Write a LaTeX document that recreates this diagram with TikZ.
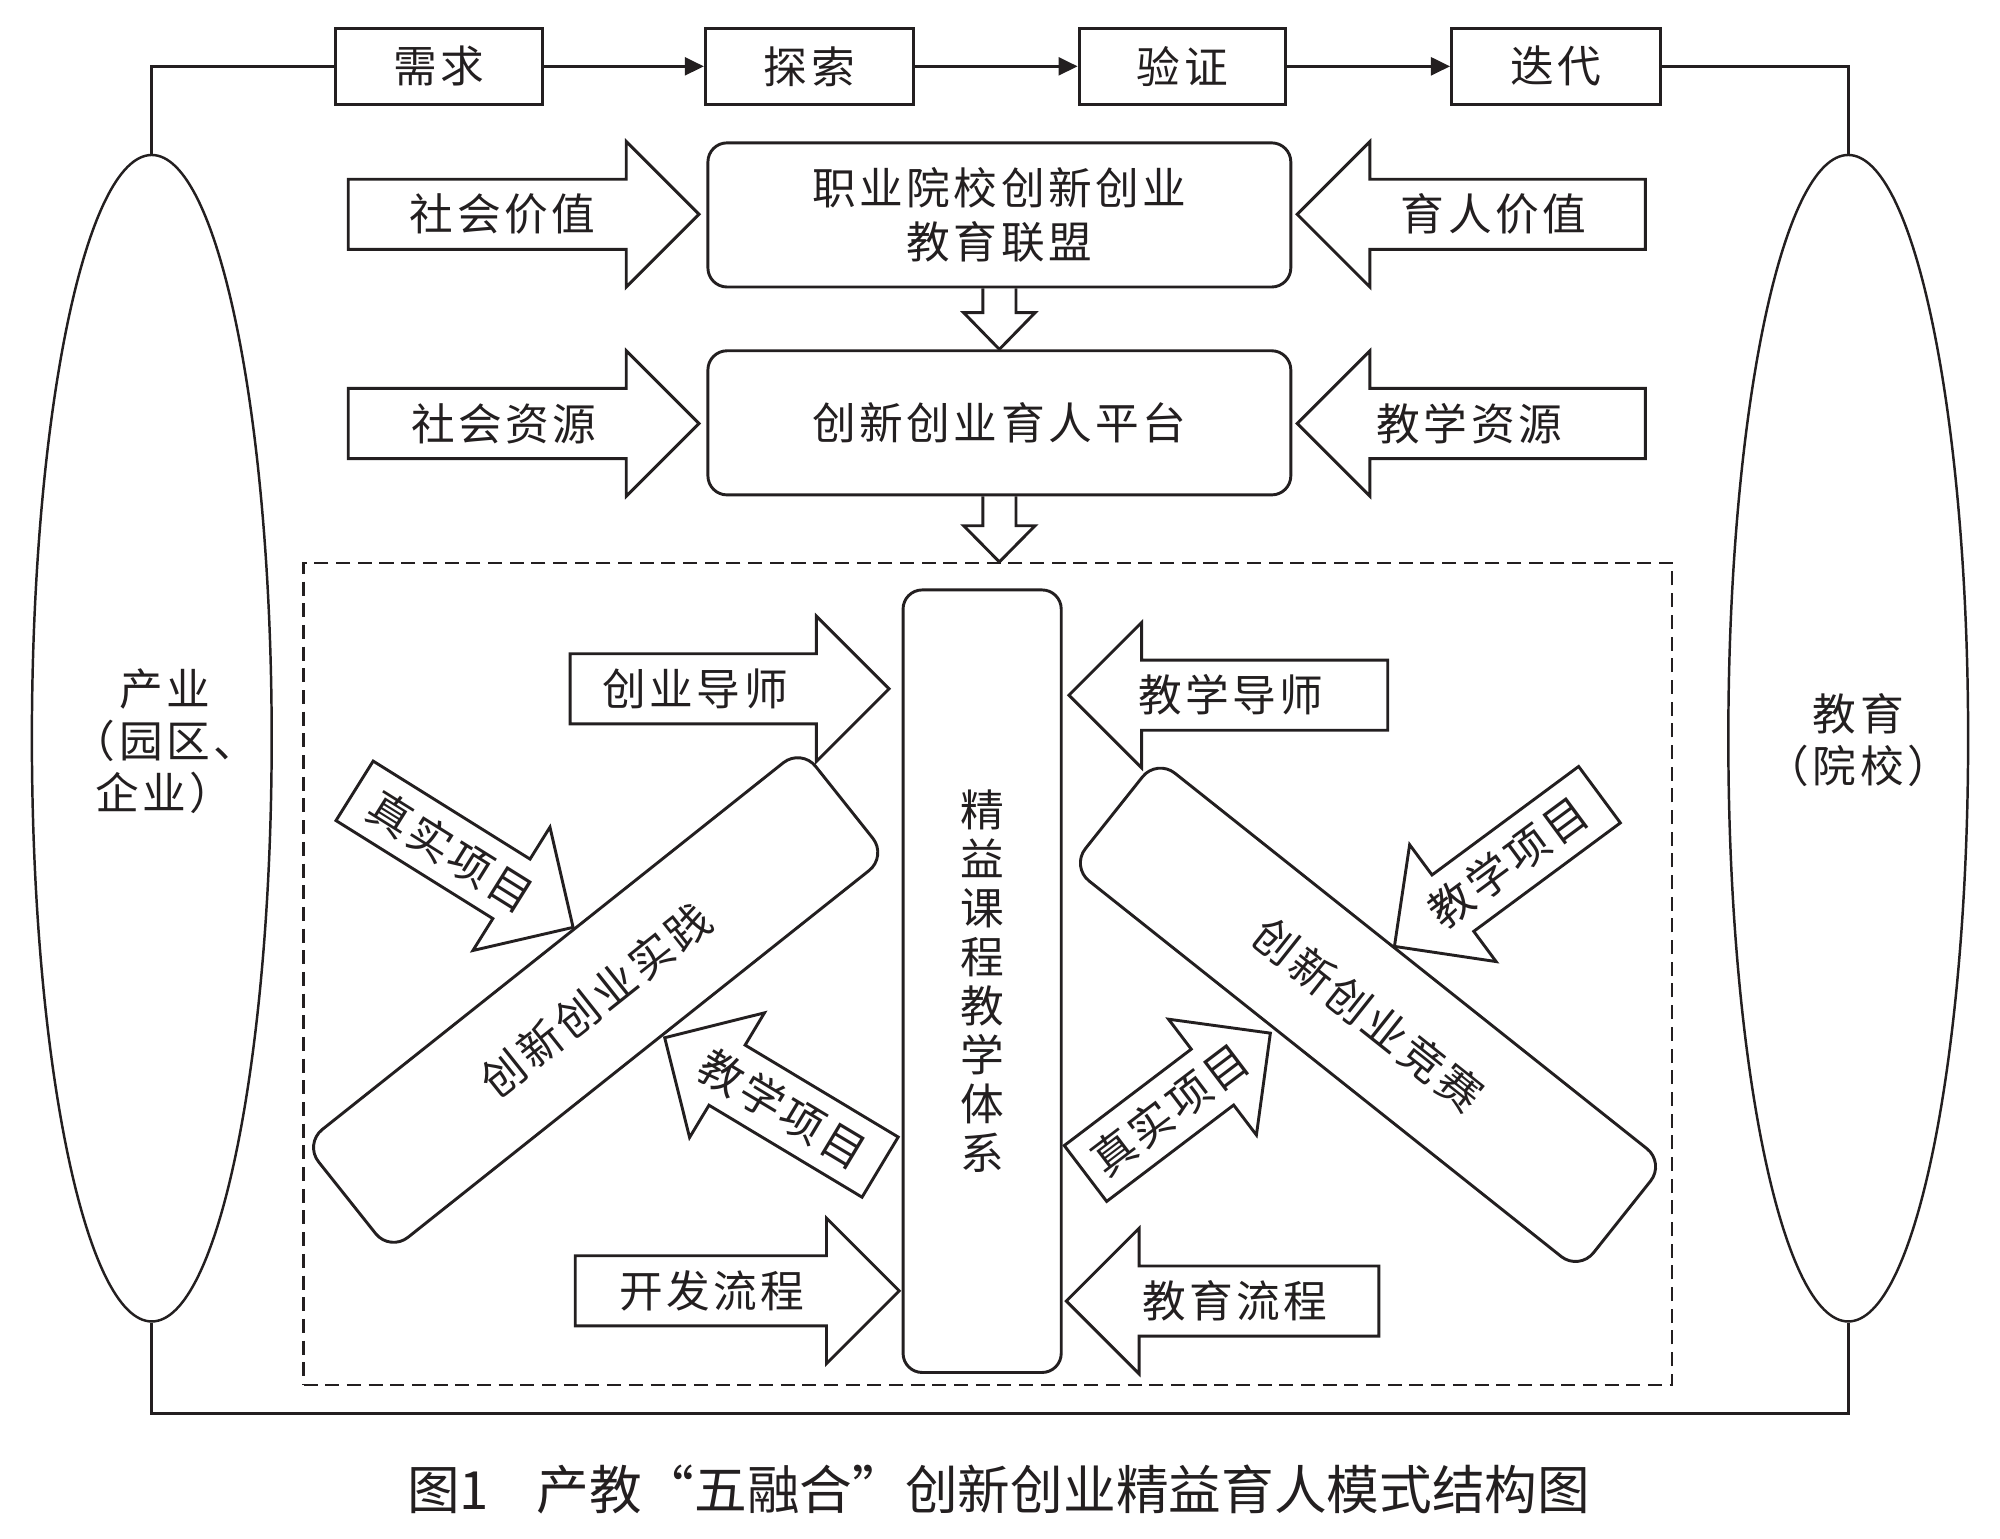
\documentclass[tikz,border=0pt]{standalone}
\usepackage{fontspec}
\setmainfont{Noto Sans CJK SC}
\newfontfamily\cjkfont[LetterSpace=8]{Noto Sans CJK SC}
\newfontfamily\capfont{Noto Sans CJK SC}
\usetikzlibrary{shapes.geometric,arrows.meta,calc}
\definecolor{ink}{RGB}{35,31,32}
% block arrow: x y angle length textpos textrot name text
\newcommand\blockarrow[8]{%
  \begin{scope}[shift={(#1,#2)},rotate=#3]
    \draw[outl] (0,-27.5) -- ({#4-57},-27.5) -- ({#4-57},-57) -- (#4,0)
      -- ({#4-57},57) -- ({#4-57},27.5) -- (0,27.5) -- cycle;
    \node[lbl,rotate=#6] (#7) at (#5,0) {#8};
  \end{scope}}
\begin{document}
\begin{tikzpicture}[x=0.2mm,y=-0.2mm,
  outl/.style={draw=ink,line width=1.3pt,fill=white,line join=miter},
  conn/.style={draw=ink,line width=1.3pt},
  txt/.style={font=\cjkfont\fontsize{19.5}{24}\selectfont,text=ink},
  lbl/.style={txt,inner sep=0pt},
  sqbox/.style={txt,draw=ink,line width=1.3pt,fill=white,minimum height=12mm,inner sep=0pt},
  rbox/.style={txt,draw=ink,line width=1.3pt,fill=white,rounded corners=3mm,inner sep=0pt,align=center},
  oval/.style={ellipse,draw=ink,line width=1.1pt,minimum width=37.6mm,minimum height=182.9mm,inner sep=0pt},
  zonebox/.style={draw=ink,line width=1.1pt,dash pattern=on 2.2mm off 1.2mm,minimum width=214.6mm,minimum height=128.9mm,inner sep=0pt},
  tip/.style={-{Triangle[length=3mm,width=2.8mm]}}]
\useasboundingbox (0,0) rectangle (1568,1206);

% side ellipses
\node[oval] (ind) at (119,578.75) {};
\node[oval] (edu) at (1449,578.75) {};
\node[lbl,align=center,font=\cjkfont\fontsize{19.5}{23.2}\selectfont] (indt) at (129,581) {产业\\（园区、\\企业）};
\node[lbl,align=center,font=\cjkfont\fontsize{19.5}{23}\selectfont] (edut) at (1457,580) {教育\\（院校）};

% top process
\node[sqbox,minimum width=32.4mm] (need) at (344,52) {需求};
\node[sqbox,minimum width=32.6mm] (explore) at (634.5,52) {探索};
\node[sqbox,minimum width=32.4mm] (verify) at (927,52) {验证};
\node[sqbox,minimum width=32.8mm] (iterate) at (1220,52) {迭代};
\draw[conn,tip] (need.east) -- (explore.west);
\draw[conn,tip] (explore.east) -- (verify.west);
\draw[conn,tip] (verify.east) -- (iterate.west);
\draw[conn] (need.west) -| (ind.north);
\draw[conn] (iterate.east) -| (edu.north);
\coordinate (bot) at (784,1108.5);
\draw[conn] (ind.south) |- (bot) -| (edu.south);

% alliance and platform
\node[rbox,minimum width=91.4mm,minimum height=22.6mm] (alliance) at (783.5,168.5) {职业院校创新创业\\教育联盟};
\node[rbox,minimum width=91.4mm,minimum height=22.6mm] (platform) at (783.5,331.5) {创新创业育人平台};

\blockarrow{273}{168}{0}{275}{121}{0}{socval}{社会价值}
\blockarrow{1290}{168}{180}{273}{119}{0}{eduval}{育人价值}
\blockarrow{273}{332}{0}{275}{122}{0}{socres}{社会资源}
\blockarrow{1290}{332}{180}{273}{138}{0}{teachres}{教学资源}

% dashed zone
\node[zonebox] (zone) at (774.5,763.75) {};

% down arrows
\draw[conn,line join=miter] ($(alliance.south)+(-13,0)$) -- ($(alliance.south)+(-13,19)$)
  -- ($(alliance.south)+(-28,19)$) -- (platform.north) -- ($(alliance.south)+(28,19)$)
  -- ($(alliance.south)+(13,19)$) -- ($(alliance.south)+(13,0)$);
\coordinate (ztip) at (platform.south |- zone.north);
\draw[conn,line join=miter] ($(platform.south)+(-13,0)$) -- ($(platform.south)+(-13,23)$)
  -- ($(platform.south)+(-28,23)$) -- (ztip) -- ($(platform.south)+(28,23)$)
  -- ($(platform.south)+(13,23)$) -- ($(platform.south)+(13,0)$);

% inner structure
\node[rbox,minimum width=24.8mm,minimum height=122.7mm,font=\cjkfont\fontsize{19.5}{21.9}\selectfont] (course) at (770,769.25) {精\\益\\课\\程\\教\\学\\体\\系};
\node[rbox,rounded corners=3.6mm,minimum width=99.6mm,minimum height=21.6mm,rotate=38.5] (practice) at (467,784) {创新创业实践};
\node[rbox,rounded corners=3.6mm,minimum width=101.8mm,minimum height=21.6mm,rotate=-38.5] (contest) at (1072.5,795.6) {创新创业竞赛};

\blockarrow{447}{540}{0}{250}{98}{0}{bizmentor}{创业导师}
\blockarrow{1088}{545}{180}{250}{123}{0}{teachmentor}{教学导师}
\blockarrow{451}{1012}{0}{254}{107}{0}{devflow}{开发流程}
\blockarrow{1081}{1020}{180}{245}{113}{0}{eduflow}{教育流程}
\blockarrow{278}{620}{-32}{202}{89}{-32}{realA}{真实项目}
\blockarrow{690}{915}{149}{197}{89}{-31}{teachA}{教学项目}
\blockarrow{1254}{623}{216.5}{200}{89}{36.5}{teachB}{教学项目}
\blockarrow{851}{920}{37.2}{182}{83}{37.2}{realB}{真实项目}

% caption
\node[font=\capfont\fontsize{23.5}{28}\selectfont,text=ink,inner sep=0pt] (cap) at (783,1168) {图1\hspace{0.9em}产教“五融合”创新创业精益育人模式结构图};
\end{tikzpicture}
\end{document}
